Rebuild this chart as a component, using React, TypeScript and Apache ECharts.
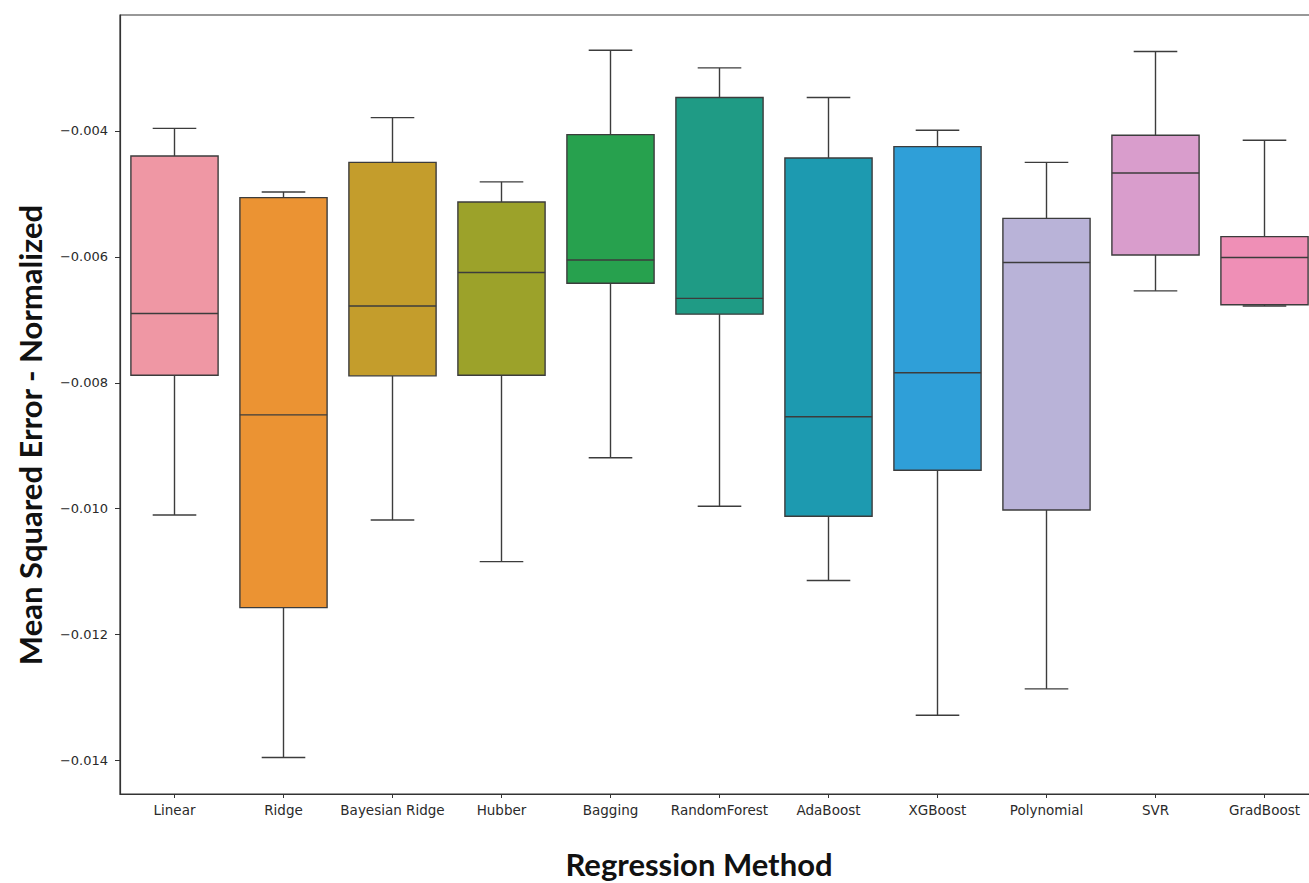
import React, { useEffect, useRef } from "react";
import * as echarts from "echarts";

// Regression methods on the x axis
const methods = [
  "Linear",
  "Ridge",
  "Bayesian Ridge",
  "Hubber",
  "Bagging",
  "RandomForest",
  "AdaBoost",
  "XGBoost",
  "Polynomial",
  "SVR",
  "GradBoost",
];

// Five-number summaries (normalized MSE) per method
const whiskerLow = [-0.0101, -0.01395, -0.01018, -0.01084, -0.00919, -0.00996, -0.01114, -0.01328, -0.01286, -0.00654, -0.00678];
const quartile1 = [-0.00788, -0.01157, -0.00789, -0.00788, -0.00642, -0.00691, -0.01012, -0.00939, -0.01002, -0.00597, -0.00676];
const medians = [-0.0069, -0.00851, -0.00678, -0.00625, -0.00605, -0.00666, -0.00854, -0.00784, -0.00609, -0.00467, -0.00601];
const quartile3 = [-0.0044, -0.00506, -0.0045, -0.00513, -0.00406, -0.00347, -0.00443, -0.00425, -0.00539, -0.00407, -0.00568];
const whiskerHigh = [-0.00396, -0.00497, -0.00379, -0.00481, -0.00272, -0.003, -0.00347, -0.00399, -0.0045, -0.00274, -0.00415];

const yTicks = [-0.014, -0.012, -0.01, -0.008, -0.006, -0.004];

const boxColors = [
  "#ef97a4",
  "#eb9333",
  "#c49d2c",
  "#9ca22a",
  "#27a14e",
  "#1f9b85",
  "#1d9ab0",
  "#2f9fd8",
  "#b9b3d8",
  "#d99dcc",
  "#ef8fb6",
];

const LINE = "#3c3c3c";

export default function App() {
  const ref = useRef<HTMLDivElement>(null);

  useEffect(() => {
    document.body.style.margin = "0";
    document.body.style.overflow = "hidden";
    const chart = echarts.init(ref.current!, undefined, { renderer: "svg" });

    const data = methods.map((_, i) => [
      i,
      whiskerLow[i],
      quartile1[i],
      medians[i],
      quartile3[i],
      whiskerHigh[i],
    ]);

    const renderItem = (params: any, api: any) => {
      const idx = api.value(0);
      const [x, yLo] = api.coord([idx, api.value(1)]);
      const yQ1 = api.coord([idx, api.value(2)])[1];
      const yMed = api.coord([idx, api.value(3)])[1];
      const yQ3 = api.coord([idx, api.value(4)])[1];
      const yHi = api.coord([idx, api.value(5)])[1];
      const band = api.size([1, 0])[0];
      const bw = band * 0.8;
      const cw = bw / 2;
      const lineStyle = { stroke: LINE, lineWidth: 1.4 };
      return {
        type: "group",
        children: [
          { type: "line", shape: { x1: x, y1: yQ3, x2: x, y2: yHi }, style: lineStyle },
          { type: "line", shape: { x1: x, y1: yQ1, x2: x, y2: yLo }, style: lineStyle },
          { type: "line", shape: { x1: x - cw / 2, y1: yHi, x2: x + cw / 2, y2: yHi }, style: lineStyle },
          { type: "line", shape: { x1: x - cw / 2, y1: yLo, x2: x + cw / 2, y2: yLo }, style: lineStyle },
          {
            type: "rect",
            shape: { x: x - bw / 2, y: yQ3, width: bw, height: yQ1 - yQ3 },
            style: { fill: boxColors[idx], stroke: LINE, lineWidth: 1.4 },
          },
          { type: "line", shape: { x1: x - bw / 2, y1: yMed, x2: x + bw / 2, y2: yMed }, style: lineStyle },
        ],
      };
    };

    chart.setOption({
      animation: false,
      backgroundColor: "#ffffff",
      grid: {
        left: 120,
        top: 15,
        width: 1199,
        height: 779,
        show: true,
        borderColor: "#333333",
        borderWidth: 1.2,
        containLabel: false,
        outerBoundsMode: "none",
      },
      xAxis: {
        type: "category",
        data: methods,
        boundaryGap: true,
        axisLine: { show: true, lineStyle: { color: "#333333", width: 1.2 } },
        axisTick: { show: true, alignWithLabel: true, length: 4, lineStyle: { color: "#333333" } },
        axisLabel: {
          color: "#2a2a2a",
          fontFamily: "DejaVu Sans",
          fontSize: 13.5,
          margin: 9,
          interval: 0,
        },
        splitLine: { show: false },
      },
      yAxis: {
        type: "value",
        min: -0.01453,
        max: -0.00216,
        axisLine: { show: true, lineStyle: { color: "#333333", width: 1.2 } },
        axisTick: {
          show: true,
          length: 5,
          customValues: yTicks,
          lineStyle: { color: "#333333" },
        },
        axisLabel: {
          customValues: yTicks,
          color: "#2a2a2a",
          fontFamily: "DejaVu Sans",
          fontSize: 13,
          margin: 12,
          formatter: (v: number) => "\u2212" + Math.abs(v).toFixed(3),
        },
        splitLine: { show: false },
      },
      graphic: [
        {
          type: "text",
          x: 30,
          y: 435,
          rotation: Math.PI / 2,
          style: {
            text: "Mean Squared Error - Normalized",
            fontFamily: "Lato",
            fontWeight: "bold",
            fontSize: 31,
            fill: "#111111",
            align: "center",
            verticalAlign: "middle",
          },
        },
        {
          type: "text",
          x: 699,
          y: 864,
          style: {
            text: "Regression Method",
            fontFamily: "Lato",
            fontWeight: "bold",
            fontSize: 31,
            fill: "#111111",
            align: "center",
            verticalAlign: "middle",
          },
        },
      ],
      series: [
        {
          type: "custom",
          renderItem,
          encode: { x: 0, y: [1, 2, 3, 4, 5] },
          data,
        },
      ],
    });

    return () => chart.dispose();
  }, []);

  return (
    <div
      ref={ref}
      style={{ position: "absolute", left: 0, top: 0, width: 1309, height: 883 }}
    />
  );
}
